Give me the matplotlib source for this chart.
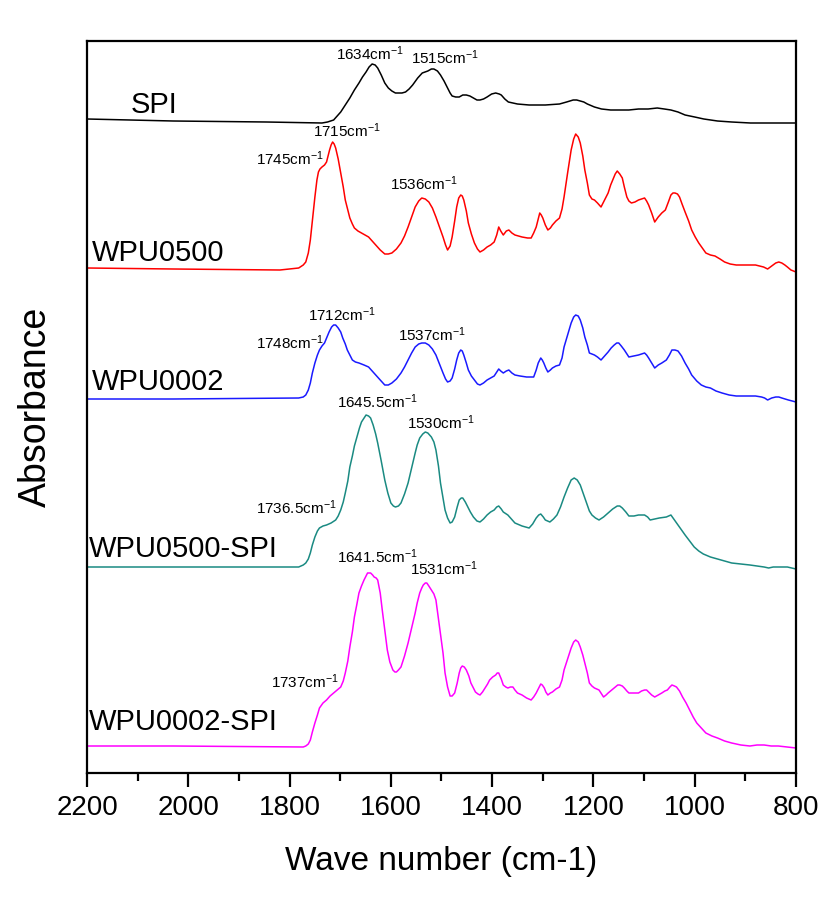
import matplotlib
matplotlib.use("Agg")
import matplotlib.pyplot as plt
from matplotlib.ticker import MultipleLocator

plt.rcParams['font.family'] = ['Liberation Sans', 'DejaVu Sans']
plt.rcParams['mathtext.fontset'] = 'custom'
plt.rcParams['mathtext.rm'] = 'Liberation Sans'
plt.rcParams['mathtext.it'] = 'Liberation Sans:italic'
plt.rcParams['mathtext.bf'] = 'Liberation Sans:bold'

# ---------------- data (wavenumber in cm-1, absorbance in a.u., already offset) ----------------
wn_spi = [2200, 2030, 1846, 1736, 1725, 1713, 1706, 1699, 1690, 1681, 1672, 1663, 1656, 1649,
          1643, 1637, 1631, 1626, 1619, 1612, 1605, 1598, 1591, 1584, 1578, 1571, 1564, 1557,
          1547, 1538, 1527, 1520, 1515, 1508, 1502, 1495, 1488, 1483, 1479, 1472, 1465, 1458,
          1451, 1444, 1437, 1430, 1424, 1417, 1410, 1401, 1393, 1386, 1382, 1375, 1368, 1359,
          1350, 1327, 1295, 1267, 1253, 1240, 1233, 1226, 1219, 1212, 1198, 1184, 1166, 1148,
          1130, 1111, 1092, 1074, 1060, 1047, 1033, 1019, 1000, 982, 955, 927, 890, 800]
abs_spi = [6.54, 6.52, 6.51, 6.50, 6.51, 6.53, 6.57, 6.61, 6.68, 6.75, 6.83, 6.90, 6.96, 7.01,
           7.06, 7.09, 7.08, 7.05, 6.98, 6.90, 6.85, 6.82, 6.80, 6.80, 6.80, 6.81, 6.84, 6.88,
           6.95, 7.00, 7.02, 7.04, 7.04, 7.02, 6.98, 6.92, 6.85, 6.80, 6.77, 6.76, 6.76, 6.78,
           6.78, 6.77, 6.75, 6.73, 6.73, 6.74, 6.76, 6.79, 6.80, 6.79, 6.78, 6.74, 6.71, 6.70,
           6.69, 6.68, 6.68, 6.69, 6.71, 6.73, 6.73, 6.72, 6.71, 6.69, 6.66, 6.64, 6.63, 6.63,
           6.63, 6.64, 6.64, 6.65, 6.64, 6.63, 6.61, 6.58, 6.56, 6.54, 6.52, 6.51, 6.50, 6.50]

wn_wpu0500 = [2200, 2030, 1819, 1782, 1773, 1768, 1763, 1759, 1755, 1750, 1746, 1743, 1740, 1736,
              1731, 1727, 1724, 1721, 1718, 1715, 1712, 1709, 1704, 1699, 1694, 1690, 1685, 1681,
              1676, 1672, 1665, 1658, 1651, 1644, 1637, 1630, 1621, 1612, 1605, 1598, 1589, 1580,
              1573, 1566, 1559, 1552, 1545, 1539, 1532, 1525, 1518, 1511, 1504, 1497, 1492, 1488,
              1483, 1479, 1474, 1470, 1466, 1462, 1459, 1456, 1451, 1447, 1441, 1435, 1429, 1424,
              1417, 1410, 1403, 1396, 1391, 1387, 1383, 1378, 1372, 1367, 1361, 1355, 1341, 1330,
              1323, 1318, 1313, 1309, 1306, 1303, 1300, 1295, 1290, 1285, 1281, 1274, 1267, 1262,
              1258, 1251, 1244, 1239, 1235, 1230, 1226, 1221, 1217, 1212, 1208, 1203, 1198, 1192,
              1185, 1178, 1171, 1166, 1162, 1157, 1153, 1148, 1143, 1139, 1134, 1130, 1125, 1118,
              1111, 1105, 1099, 1095, 1091, 1085, 1079, 1072, 1065, 1058, 1052, 1047, 1043, 1039,
              1034, 1030, 1025, 1019, 1012, 1006, 999, 992, 985, 978, 969, 960, 950, 941, 930, 918,
              905, 891, 880, 872, 864, 856, 848, 840, 834, 828, 822, 817, 810, 800]
abs_wpu0500 = [5.05, 5.04, 5.03, 5.05, 5.08, 5.11, 5.20, 5.33, 5.52, 5.76, 5.93, 6.01, 6.04, 6.06,
               6.08, 6.11, 6.17, 6.23, 6.28, 6.31, 6.29, 6.25, 6.14, 6.00, 5.86, 5.73, 5.63, 5.55,
               5.49, 5.45, 5.42, 5.40, 5.38, 5.36, 5.32, 5.28, 5.23, 5.19, 5.19, 5.20, 5.24, 5.30,
               5.37, 5.46, 5.56, 5.66, 5.72, 5.75, 5.74, 5.71, 5.65, 5.56, 5.46, 5.36, 5.28, 5.23,
               5.27, 5.36, 5.52, 5.66, 5.75, 5.78, 5.77, 5.73, 5.62, 5.50, 5.39, 5.30, 5.24, 5.21,
               5.23, 5.26, 5.28, 5.31, 5.38, 5.46, 5.42, 5.38, 5.42, 5.43, 5.40, 5.38, 5.36, 5.35,
               5.35, 5.40, 5.46, 5.54, 5.60, 5.58, 5.55, 5.48, 5.43, 5.45, 5.48, 5.52, 5.55, 5.64,
               5.76, 6.00, 6.23, 6.34, 6.39, 6.36, 6.30, 6.17, 6.03, 5.90, 5.78, 5.74, 5.73, 5.70,
               5.66, 5.73, 5.80, 5.88, 5.93, 5.99, 6.02, 5.99, 5.95, 5.86, 5.76, 5.72, 5.70, 5.71,
               5.73, 5.74, 5.75, 5.72, 5.68, 5.60, 5.51, 5.56, 5.60, 5.63, 5.71, 5.78, 5.80, 5.80,
               5.79, 5.76, 5.69, 5.61, 5.52, 5.43, 5.36, 5.30, 5.25, 5.20, 5.18, 5.17, 5.14, 5.11,
               5.09, 5.08, 5.08, 5.08, 5.08, 5.07, 5.06, 5.04, 5.07, 5.10, 5.11, 5.10, 5.08, 5.06,
               5.03, 5.01]

wn_wpu0002 = [2200, 2030, 1782, 1773, 1768, 1763, 1759, 1755, 1750, 1745, 1741, 1736, 1731, 1727,
              1722, 1717, 1713, 1709, 1704, 1699, 1695, 1690, 1686, 1681, 1676, 1670, 1663, 1653,
              1644, 1637, 1630, 1621, 1612, 1605, 1598, 1589, 1580, 1573, 1566, 1559, 1552, 1545,
              1539, 1532, 1525, 1518, 1511, 1504, 1497, 1492, 1488, 1483, 1479, 1474, 1470, 1466,
              1462, 1459, 1456, 1451, 1447, 1441, 1435, 1429, 1424, 1417, 1410, 1403, 1396, 1391,
              1387, 1383, 1378, 1372, 1367, 1361, 1355, 1345, 1332, 1318, 1313, 1309, 1304, 1301,
              1298, 1294, 1290, 1285, 1281, 1274, 1267, 1262, 1258, 1251, 1244, 1239, 1235, 1230,
              1226, 1221, 1217, 1212, 1208, 1203, 1198, 1192, 1185, 1178, 1171, 1165, 1159, 1154,
              1150, 1145, 1139, 1134, 1130, 1120, 1111, 1105, 1099, 1095, 1091, 1085, 1079, 1072,
              1065, 1056, 1050, 1045, 1039, 1033, 1026, 1019, 1012, 1006, 996, 987, 978, 969, 958,
              946, 932, 918, 905, 891, 880, 868, 862, 856, 848, 840, 834, 828, 815, 800]
abs_wpu0002 = [3.74, 3.74, 3.75, 3.76, 3.78, 3.83, 3.90, 4.00, 4.10, 4.18, 4.23, 4.27, 4.30, 4.35,
               4.41, 4.46, 4.48, 4.48, 4.45, 4.41, 4.35, 4.29, 4.23, 4.18, 4.13, 4.11, 4.10, 4.08,
               4.06, 4.02, 3.98, 3.93, 3.88, 3.88, 3.90, 3.94, 4.00, 4.06, 4.13, 4.20, 4.26, 4.29,
               4.30, 4.30, 4.28, 4.24, 4.18, 4.09, 4.00, 3.94, 3.91, 3.92, 3.95, 4.04, 4.13, 4.20,
               4.23, 4.22, 4.18, 4.10, 4.03, 3.97, 3.93, 3.89, 3.88, 3.90, 3.93, 3.95, 3.97, 4.01,
               4.04, 4.02, 4.00, 4.02, 4.03, 4.00, 3.98, 3.97, 3.96, 3.96, 4.03, 4.10, 4.15, 4.13,
               4.10, 4.05, 4.01, 4.03, 4.05, 4.07, 4.08, 4.15, 4.26, 4.38, 4.50, 4.56, 4.58, 4.57,
               4.53, 4.45, 4.36, 4.28, 4.20, 4.19, 4.18, 4.16, 4.13, 4.17, 4.21, 4.25, 4.28, 4.30,
               4.30, 4.27, 4.23, 4.19, 4.16, 4.17, 4.18, 4.19, 4.20, 4.18, 4.15, 4.10, 4.05, 4.08,
               4.10, 4.13, 4.18, 4.23, 4.23, 4.22, 4.17, 4.10, 4.04, 3.98, 3.92, 3.88, 3.86, 3.85,
               3.82, 3.80, 3.78, 3.77, 3.77, 3.77, 3.77, 3.76, 3.75, 3.73, 3.75, 3.76, 3.76, 3.75,
               3.73, 3.71]

wn_wpu0500_spi = [2200, 2030, 1782, 1773, 1768, 1763, 1759, 1755, 1750, 1745, 1741, 1734, 1727,
                  1718, 1709, 1704, 1699, 1694, 1690, 1685, 1681, 1676, 1672, 1667, 1662, 1658,
                  1653, 1649, 1644, 1640, 1635, 1630, 1626, 1619, 1612, 1606, 1600, 1595, 1591,
                  1585, 1580, 1573, 1566, 1559, 1552, 1548, 1543, 1537, 1532, 1527, 1520, 1515,
                  1511, 1506, 1502, 1497, 1493, 1488, 1483, 1479, 1474, 1469, 1465, 1461, 1458,
                  1453, 1448, 1443, 1437, 1430, 1424, 1417, 1410, 1403, 1396, 1391, 1387, 1382,
                  1378, 1369, 1362, 1355, 1341, 1327, 1320, 1313, 1308, 1304, 1299, 1295, 1286,
                  1279, 1272, 1265, 1258, 1251, 1244, 1238, 1232, 1226, 1219, 1212, 1208, 1203,
                  1196, 1189, 1180, 1171, 1162, 1153, 1148, 1143, 1136, 1130, 1120, 1111, 1099,
                  1093, 1088, 1079, 1070, 1056, 1047, 1040, 1033, 1026, 1019, 1010, 1001, 992, 983,
                  969, 955, 941, 927, 909, 891, 877, 863, 854, 845, 835, 817, 800]
abs_wpu0500_spi = [2.06, 2.06, 2.06, 2.08, 2.10, 2.14, 2.20, 2.28, 2.36, 2.42, 2.45, 2.47, 2.48,
                   2.50, 2.53, 2.57, 2.63, 2.71, 2.80, 2.92, 3.06, 3.17, 3.27, 3.36, 3.45, 3.51,
                   3.55, 3.58, 3.57, 3.55, 3.48, 3.39, 3.30, 3.12, 2.93, 2.80, 2.70, 2.67, 2.66,
                   2.67, 2.70, 2.79, 2.90, 3.05, 3.20, 3.28, 3.35, 3.39, 3.41, 3.40, 3.36, 3.31,
                   3.23, 3.07, 2.90, 2.75, 2.63, 2.55, 2.50, 2.51, 2.56, 2.66, 2.73, 2.75, 2.75,
                   2.71, 2.66, 2.61, 2.56, 2.52, 2.51, 2.54, 2.58, 2.61, 2.63, 2.66, 2.67, 2.64,
                   2.61, 2.58, 2.54, 2.50, 2.47, 2.45, 2.49, 2.55, 2.58, 2.59, 2.56, 2.53, 2.51,
                   2.54, 2.58, 2.66, 2.76, 2.85, 2.93, 2.95, 2.93, 2.88, 2.78, 2.68, 2.62, 2.58,
                   2.55, 2.53, 2.56, 2.60, 2.64, 2.67, 2.67, 2.65, 2.61, 2.57, 2.57, 2.58, 2.58,
                   2.56, 2.53, 2.54, 2.55, 2.56, 2.58, 2.53, 2.48, 2.43, 2.38, 2.32, 2.26, 2.22, 2.19,
                   2.16, 2.14, 2.12, 2.10, 2.09, 2.08, 2.07, 2.06, 2.05, 2.06, 2.06, 2.06, 2.04]

wn_wpu0002_spi = [2200, 2030, 1773, 1768, 1763, 1759, 1755, 1750, 1745, 1741, 1734, 1727, 1720,
                  1713, 1706, 1699, 1694, 1690, 1685, 1681, 1676, 1672, 1667, 1663, 1658, 1653,
                  1649, 1646, 1643, 1640, 1636, 1633, 1629, 1626, 1621, 1617, 1612, 1607, 1602,
                  1596, 1592, 1589, 1585, 1580, 1573, 1566, 1559, 1552, 1548, 1543, 1539, 1536,
                  1532, 1529, 1525, 1520, 1515, 1511, 1507, 1502, 1497, 1493, 1488, 1483, 1479,
                  1474, 1469, 1465, 1462, 1459, 1455, 1451, 1446, 1442, 1437, 1433, 1428, 1424,
                  1419, 1414, 1409, 1405, 1399, 1393, 1390, 1387, 1382, 1378, 1373, 1369, 1364,
                  1359, 1355, 1350, 1341, 1332, 1323, 1318, 1313, 1308, 1304, 1301, 1297, 1294,
                  1290, 1285, 1281, 1274, 1267, 1262, 1258, 1251, 1244, 1239, 1235, 1230, 1226,
                  1221, 1217, 1212, 1208, 1203, 1198, 1189, 1184, 1180, 1175, 1171, 1164, 1157,
                  1152, 1148, 1143, 1139, 1134, 1130, 1120, 1111, 1105, 1099, 1095, 1091, 1085,
                  1079, 1072, 1065, 1059, 1054, 1049, 1045, 1040, 1036, 1030, 1024, 1017, 1010,
                  1003, 996, 987, 978, 966, 955, 941, 927, 909, 891, 877, 863, 849, 835, 817, 800]
abs_wpu0002_spi = [0.27, 0.27, 0.26, 0.27, 0.29, 0.33, 0.41, 0.50, 0.58, 0.65, 0.70, 0.73, 0.77,
                   0.80, 0.83, 0.86, 0.92, 1.00, 1.12, 1.26, 1.41, 1.56, 1.69, 1.80, 1.87, 1.93,
                   1.97, 2.00, 2.00, 2.00, 1.98, 1.96, 1.95, 1.93, 1.80, 1.63, 1.43, 1.23, 1.11,
                   1.03, 1.01, 1.01, 1.03, 1.06, 1.17, 1.30, 1.45, 1.60, 1.70, 1.80, 1.85, 1.88,
                   1.90, 1.90, 1.87, 1.83, 1.79, 1.73, 1.58, 1.40, 1.20, 1.00, 0.86, 0.77, 0.77,
                   0.80, 0.90, 1.00, 1.05, 1.07, 1.06, 1.03, 0.97, 0.90, 0.85, 0.81, 0.79, 0.78,
                   0.81, 0.85, 0.89, 0.93, 0.96, 0.98, 1.00, 1.00, 0.94, 0.88, 0.86, 0.85, 0.86,
                   0.86, 0.83, 0.80, 0.78, 0.75, 0.73, 0.76, 0.80, 0.85, 0.89, 0.88, 0.85, 0.81,
                   0.78, 0.80, 0.81, 0.84, 0.86, 0.93, 1.03, 1.14, 1.25, 1.31, 1.33, 1.31, 1.26,
                   1.18, 1.10, 1.00, 0.90, 0.87, 0.85, 0.83, 0.79, 0.76, 0.78, 0.80, 0.83, 0.86,
                   0.88, 0.88, 0.87, 0.85, 0.82, 0.80, 0.80, 0.80, 0.82, 0.83, 0.83, 0.81, 0.78,
                   0.76, 0.78, 0.80, 0.82, 0.83, 0.86, 0.88, 0.87, 0.86, 0.82, 0.76, 0.70, 0.63,
                   0.56, 0.50, 0.45, 0.40, 0.37, 0.35, 0.32, 0.30, 0.28, 0.27, 0.28, 0.28, 0.27,
                   0.27, 0.26, 0.25]

series_names = ["SPI", "WPU0500", "WPU0002", "WPU0500-SPI", "WPU0002-SPI"]
series_colors = ["#000000", "#ff0000", "#1a1aff", "#1a8a82", "#ff00ff"]
series_wn = [wn_spi, wn_wpu0500, wn_wpu0002, wn_wpu0500_spi, wn_wpu0002_spi]
series_abs = [abs_spi, abs_wpu0500, abs_wpu0002, abs_wpu0500_spi, abs_wpu0002_spi]

# peak annotations: (label, x anchor in cm-1, y anchor in a.u.)
peak_labels = ["1634", "1515", "1715", "1745", "1536", "1748", "1712", "1537",
               "1645.5", "1530", "1736.5", "1641.5", "1531", "1737"]
peak_x = [1708, 1560, 1754, 1866, 1602, 1866, 1764, 1586, 1706, 1568, 1866, 1706, 1562, 1837]
peak_y = [7.13, 7.09, 6.36, 6.08, 5.83, 4.24, 4.52, 4.32, 3.65, 3.44, 2.59, 2.10, 1.98, 0.85]

name_x = [2113, 2191, 2191, 2197, 2197]
name_y = [6.60, 5.12, 3.83, 2.16, 0.43]

x_ticks = [2200, 2000, 1800, 1600, 1400, 1200, 1000, 800]

# ---------------- figure ----------------
fig = plt.figure(figsize=(8.25, 9.11), dpi=100)
ax = fig.add_axes([87 / 825, 1 - 773 / 911, (796 - 87) / 825, (773 - 41) / 911])

for wn, ab, col in zip(series_wn, series_abs, series_colors):
    ax.plot(wn, ab, color=col, lw=1.1)

for name, x, y in zip(series_names, name_x, name_y):
    ax.text(x, y, name, fontsize=21, ha='left', va='baseline', color='black')

for lab, x, y in zip(peak_labels, peak_x, peak_y):
    ax.text(x, y, lab + r'cm$^{\mathregular{-1}}$', fontsize=11, ha='left', va='baseline')

ax.set_xlim(2200, 800)
ax.set_ylim(0, 7.32)
ax.set_xticks(x_ticks)
ax.set_xticklabels([str(t) for t in x_ticks])
ax.xaxis.set_minor_locator(MultipleLocator(100))
ax.set_yticks([])
ax.tick_params(axis='x', which='major', direction='out', length=10, width=1.6, labelsize=20, pad=6)
ax.tick_params(axis='x', which='minor', direction='out', length=6, width=1.6)
for sp in ax.spines.values():
    sp.set_linewidth(1.6)

ax.set_xlabel('Wave number (cm-1)', fontsize=24, labelpad=18)
ax.set_ylabel('Absorbance', fontsize=27, labelpad=24)

fig.savefig('out.png', dpi=100)
